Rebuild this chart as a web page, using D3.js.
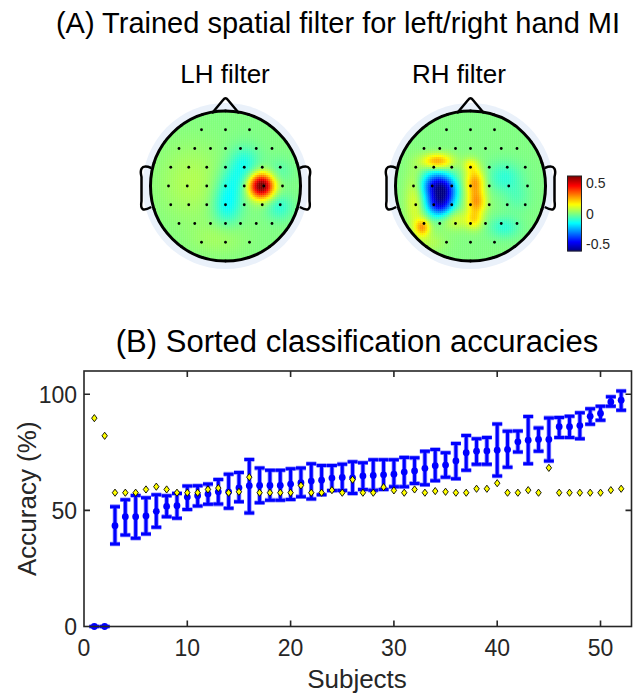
<!DOCTYPE html>
<html>
<head>
<meta charset="utf-8">
<script src="https://cdn.jsdelivr.net/npm/d3@7/dist/d3.min.js"></script>
<style>
  html, body { margin: 0; padding: 0; background: #fff; }
  svg { display: block; font-family: "Liberation Sans", Arial, Helvetica, sans-serif; }
</style>
</head>
<body>
<svg id="chart" width="633" height="695"></svg>
<script>
// ---------------- DATA ----------------
const subjects = d3.range(1, 53);
// Mean accuracy (%) of the proposed method, sorted
const accMean = [0, 0, 43.4, 47.3, 47.3, 47.6, 49.6, 51.7, 52.0, 55.7,
  56.3, 57.0, 58.0, 58.0, 59.7, 60.6, 60.7, 60.7, 60.7, 61.3,
  61.9, 62.6, 63.0, 63.9, 64.2, 64.0, 64.8, 65.0, 65.3, 65.6,
  66.5, 67.0, 68.1, 69.2, 69.5, 71.3, 74.8, 75.5, 75.6, 75.9,
  76.2, 79.5, 80.2, 80.5, 80.5, 86.0, 86.0, 86.5, 90.5, 91.7,
  96.7, 97.4];
// Upper / lower ends of the error bars
const accHigh = [0, 0, 51.6, 54.6, 56.4, 55.4, 56.7, 56.3, 57.3, 60.5,
  60.6, 61.3, 63.3, 65.6, 66.3, 71.9, 68.2, 67.3, 67.3, 67.9,
  68.2, 70.1, 69.3, 69.3, 69.9, 70.9, 70.5, 71.8, 71.8, 71.8,
  72.8, 72.6, 75.4, 76.2, 74.8, 78.8, 82.2, 80.8, 81.4, 87.2,
  84.1, 84.2, 90.4, 85.5, 89.8, 90.0, 90.5, 92.0, 93.7, 94.8,
  98.9, 101.4];
const accLow = [0, 0, 35.5, 39.4, 38.0, 39.8, 42.7, 47.3, 46.6, 50.4,
  51.9, 52.6, 52.7, 50.9, 53.7, 48.9, 53.3, 54.4, 54.4, 54.7,
  55.9, 54.9, 56.7, 58.5, 58.6, 57.3, 59.0, 58.7, 59.0, 60.2,
  60.2, 61.6, 61.0, 62.8, 64.3, 63.6, 67.3, 69.8, 69.8, 64.8,
  68.6, 75.1, 70.1, 75.5, 71.3, 81.4, 81.4, 80.8, 87.1, 88.8,
  94.8, 93.1];
// Second accuracy series (yellow diamonds)
const accOther = [89.7, 82.1, 57.6, 57.6, 57.6, 59.0, 60.2, 59.0, 57.6, 57.6,
  57.6, 59.0, 59.6, 57.6, 58.0, 64.3, 57.6, 57.6, 57.6, 57.6,
  60.7, 57.6, 57.6, 58.7, 57.6, 63.2, 57.6, 57.6, 60.0, 58.6,
  57.6, 59.0, 57.6, 58.3, 58.0, 57.6, 57.6, 59.3, 59.3, 61.7,
  57.6, 57.6, 58.7, 57.6, 68.3, 57.6, 57.6, 57.6, 57.6, 57.6,
  58.7, 59.3];
const xTicks = [0, 10, 20, 30, 40, 50];
const yTicks = [0, 50, 100];
const cbTicks = [0.5, 0, -0.5];

// Electrode layout (head-normalised coords, x right, y down, radius 1)
const rowY   = [-0.75, -0.5, -0.25, 0, 0.25, 0.5, 0.75];
const rowXs  = [[-0.32, 0, 0.32],
                [-0.62, -0.41, -0.2, 0, 0.2, 0.41, 0.62],
                [-0.73, -0.49, -0.25, 0, 0.25, 0.49, 0.73],
                [-0.76, -0.51, -0.25, 0, 0.25, 0.51, 0.76],
                [-0.73, -0.49, -0.25, 0, 0.25, 0.49, 0.73],
                [-0.62, -0.41, -0.2, 0, 0.2, 0.41, 0.62],
                [-0.32, 0, 0.32]];
const ringAngles = d3.range(0, 360, 18);

// Filter weight field, described as smooth blobs [x, y, amplitude, sx, sy]
const lhBlobs = [
  [0.48, 0.0, 0.66, 0.115, 0.115],
  [0.25, -0.3, -0.12, 0.14, 0.16],
  [0.1, -0.05, -0.1, 0.14, 0.16],
  [0.02, 0.25, -0.15, 0.13, 0.18],
  [0.72, 0.28, -0.1, 0.12, 0.12],
  [0.72, -0.2, -0.05, 0.12, 0.12],
  [-0.45, -0.05, 0.06, 0.3, 0.35],
  [-0.1, 0.7, 0.04, 0.25, 0.15]
];
const rhBlobs = [
  [-0.47, 0.0, -0.42, 0.13, 0.13],
  [-0.32, 0.06, -0.3, 0.11, 0.13],
  [-0.42, 0.25, -0.4, 0.12, 0.11],
  [0.06, -0.05, 0.27, 0.09, 0.13],
  [0.08, 0.22, 0.25, 0.09, 0.11],
  [0.05, 0.45, 0.17, 0.08, 0.09],
  [0.0, -0.28, 0.12, 0.07, 0.07],
  [-0.44, -0.33, 0.27, 0.14, 0.07],
  [-0.64, 0.55, 0.25, 0.07, 0.08],
  [-0.74, 0.2, 0.12, 0.09, 0.28],
  [-0.2, 0.45, 0.1, 0.12, 0.09],
  [-0.55, 0.75, 0.06, 0.15, 0.1],
  [0.45, -0.12, -0.1, 0.16, 0.14],
  [0.45, 0.55, -0.1, 0.14, 0.1],
  [0.62, 0.15, -0.05, 0.12, 0.14]
];
const cLim = 0.62;

// ---------------- DRAW ----------------
const svg = d3.select("#chart");

svg.append("text").attr("x", 338).attr("y", 33).attr("text-anchor", "middle")
  .attr("font-size", 29).attr("fill", "#000")
  .text("(A) Trained spatial filter for left/right hand MI");

const jet = d3.scaleLinear()
  .domain([-cLim, -cLim*0.75, -cLim*0.25, cLim*0.25, cLim*0.75, cLim])
  .range(["#000080", "#0000ff", "#00ffff", "#ffff00", "#ff0000", "#800000"])
  .clamp(true);

function field(blobs, x, y) {
  let v = 0;
  for (const b of blobs) {
    const dx = (x - b[0]) / b[3], dy = (y - b[1]) / b[4];
    v += b[2] * Math.exp(-0.5 * (dx*dx + dy*dy));
  }
  return v;
}

const R = 75, cy = 186;
function drawHead(cx, blobs, label, labelX, id) {
  const g = svg.append("g");
  g.append("text").attr("x", labelX).attr("y", 83).attr("text-anchor", "middle")
    .attr("font-size", 26).text(label);
  const hx = d3.scaleLinear().domain([-1, 1]).range([cx - R, cx + R]);
  const hy = d3.scaleLinear().domain([-1, 1]).range([cy - R, cy + R]);
  // halo
  g.append("circle").attr("cx", cx).attr("cy", cy).attr("r", R + 8).attr("fill", "#eaf1fa");
  g.append("defs").append("clipPath").attr("id", id)
    .append("circle").attr("cx", cx).attr("cy", cy).attr("r", R);
  const step = 2;
  const cells = [];
  for (let px = cx - R; px < cx + R; px += step) {
    for (let py = cy - R; py < cy + R; py += step) {
      const nx = hx.invert(px + step/2), ny = hy.invert(py + step/2);
      if (nx*nx + ny*ny > 1.08) continue;
      cells.push({x: nx, y: ny, v: field(blobs, nx, ny)});
    }
  }
  const cg = g.append("g").attr("clip-path", `url(#${id})`);
  cg.selectAll("rect").data(cells).join("rect")
    .attr("x", d => hx(d.x) - step/2).attr("y", d => hy(d.y) - step/2)
    .attr("width", step + 0.3).attr("height", step + 0.3)
    .attr("fill", d => jet(d.v));
  // nose
  const nose = d3.path();
  nose.moveTo(hx(-0.18), hy(-0.97));
  nose.lineTo(hx(-0.03), hy(-1.15));
  nose.quadraticCurveTo(hx(0), hy(-1.19), hx(0.03), hy(-1.15));
  nose.lineTo(hx(0.18), hy(-0.97));
  g.append("path").attr("d", nose.toString()).attr("fill", "none")
    .attr("stroke", "#000").attr("stroke-width", 2.5).attr("stroke-linejoin", "round");
  // ears
  [-1, 1].forEach(s => {
    const e = d3.path();
    e.moveTo(hx(s*0.99), hy(-0.24));
    e.bezierCurveTo(hx(s*1.14), hy(-0.3), hx(s*1.14), hy(-0.2), hx(s*1.12), hy(-0.12));
    e.lineTo(hx(s*1.12), hy(0.2));
    e.bezierCurveTo(hx(s*1.14), hy(0.32), hx(s*1.1), hy(0.34), hx(s*0.99), hy(0.28));
    g.append("path").attr("d", e.toString()).attr("fill", "none")
      .attr("stroke", "#000").attr("stroke-width", 2.5);
  });
  g.append("circle").attr("cx", cx).attr("cy", cy).attr("r", R)
    .attr("fill", "none").attr("stroke", "#000").attr("stroke-width", 3);
  // electrodes
  const elec = [];
  rowY.forEach((y, i) => rowXs[i].forEach(x => elec.push([x, y])));
  ringAngles.forEach(a => {
    const t = a * Math.PI / 180;
    elec.push([Math.sin(t), -Math.cos(t)]);
  });
  g.selectAll("circle.e").data(elec).join("circle").attr("class", "e")
    .attr("cx", d => hx(d[0])).attr("cy", d => hy(d[1])).attr("r", 1.4).attr("fill", "#000");
}
drawHead(225.5, lhBlobs, "LH filter", 225, "clipL");
drawHead(470.5, rhBlobs, "RH filter", 459, "clipR");

// colorbar
const cbY = d3.scaleLinear().domain([-cLim, cLim]).range([251, 176]);
const cbVals = d3.range(-cLim, cLim, (2*cLim)/75);
svg.append("g").selectAll("rect").data(cbVals).join("rect")
  .attr("x", 567.5).attr("width", 14)
  .attr("y", d => cbY(d + (2*cLim)/75) ).attr("height", 1.3)
  .attr("fill", d => jet(d + cLim/75));
svg.append("rect").attr("x", 567.5).attr("y", 176).attr("width", 14).attr("height", 75)
  .attr("fill", "none").attr("stroke", "#222").attr("stroke-width", 1);
svg.append("g").selectAll("text").data(cbTicks).join("text")
  .attr("x", 586).attr("y", d => cbY(d) + 5).attr("font-size", 14).attr("fill", "#262626")
  .text(d => d === 0 ? "0" : d3.format(".1f")(d).replace("\u2212", "-"));

// ---------------- (B) ----------------
svg.append("text").attr("x", 357).attr("y", 352).attr("text-anchor", "middle")
  .attr("font-size", 31).attr("fill", "#000").text("(B) Sorted classification accuracies");

const x = d3.scaleLinear().domain([0, 53]).range([84, 631.5]);
const y = d3.scaleLinear().domain([0, 110]).range([626.5, 371]);
const axisCol = "#262626";
const pg = svg.append("g");

// error bars
const rows = subjects.map((s, i) => ({s, m: accMean[i], hi: accHigh[i], lo: accLow[i], o: accOther[i]}));
const capW = 5;
const eb = pg.append("g");
[["#8f8fff", 4.6], ["#0000ff", 3]].forEach(([col, w]) => {
  const gg = eb.append("g").attr("stroke", col).attr("stroke-width", w).attr("fill", "none");
  gg.selectAll("path").data(rows).join("path")
    .attr("d", d => `M${x(d.s)},${y(d.lo)}V${y(d.hi)}` +
      `M${x(d.s)-capW},${y(d.hi)}H${x(d.s)+capW}` +
      `M${x(d.s)-capW},${y(d.lo)}H${x(d.s)+capW}`);
});
eb.append("g").selectAll("circle").data(rows).join("circle")
  .attr("cx", d => x(d.s)).attr("cy", d => y(d.m)).attr("r", 3.4).attr("fill", "#0000ff");

// diamonds
pg.append("g").selectAll("path").data(rows).join("path")
  .attr("d", d => { const cx = x(d.s), cy = y(d.o);
    return `M${cx},${cy-3.6}L${cx+2.7},${cy}L${cx},${cy+3.6}L${cx-2.7},${cy}Z`; })
  .attr("fill", "#ffff00").attr("stroke", "#000").attr("stroke-width", 0.9);

// box and ticks
pg.append("rect").attr("x", x(0)).attr("y", y(110)).attr("width", x(53) - x(0))
  .attr("height", y(0) - y(110)).attr("fill", "none").attr("stroke", axisCol).attr("stroke-width", 1.6);
const tl = 6;
pg.append("g").selectAll("path").data(xTicks.filter(t => t > 0)).join("path")
  .attr("d", t => `M${x(t)},${y(0)}v${-tl}M${x(t)},${y(110)}v${tl}`)
  .attr("stroke", axisCol).attr("stroke-width", 1.6);
pg.append("g").selectAll("path").data(yTicks.filter(t => t > 0)).join("path")
  .attr("d", t => `M${x(0)},${y(t)}h${tl}M${x(53)},${y(t)}h${-tl}`)
  .attr("stroke", axisCol).attr("stroke-width", 1.6);
pg.append("g").selectAll("text").data(xTicks).join("text")
  .attr("x", t => x(t)).attr("y", 656).attr("text-anchor", "middle")
  .attr("font-size", 23).attr("fill", axisCol).text(t => t);
pg.append("g").selectAll("text").data(yTicks).join("text")
  .attr("x", 77).attr("y", t => y(t) + 8.3).attr("text-anchor", "end")
  .attr("font-size", 23).attr("fill", axisCol).text(t => t);
pg.append("text").attr("x", 357).attr("y", 688).attr("text-anchor", "middle")
  .attr("font-size", 26).attr("fill", axisCol).text("Subjects");
pg.append("text").attr("transform", `translate(36,${(y(0)+y(110))/2}) rotate(-90)`)
  .attr("text-anchor", "middle").attr("font-size", 26).attr("fill", axisCol).text("Accuracy (%)");
</script>
</body>
</html>
